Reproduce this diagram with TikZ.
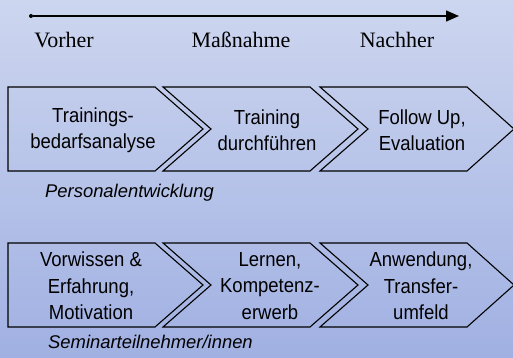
\documentclass[tikz,border=0pt]{standalone}
\usepackage{fontspec}
\setmainfont{Liberation Serif}
\setsansfont{Liberation Sans}
\usetikzlibrary{arrows.meta}
\definecolor{bgtop}{RGB}{205,214,239}
\definecolor{bgbottom}{RGB}{160,176,226}
\tikzset{
  chevron/.style={draw=black, line width=1.1pt, line join=miter},
  steptext/.style={align=center, font=\sffamily\fontsize{18.5}{24}\selectfont, inner sep=0pt, yscale=1.1},
  phase/.style={anchor=base, font=\rmfamily\fontsize{22}{26}\selectfont, inner sep=0pt},
  rowlabel/.style={anchor=base west, font=\sffamily\itshape\fontsize{18.4}{22}\selectfont, inner sep=0pt}
}
\begin{document}
\begin{tikzpicture}[x=1pt, y=-1pt]
  \useasboundingbox (0,0) rectangle (513,358);
  \shade[top color=bgtop, bottom color=bgbottom] (0,0) rectangle (513,358);

  % time axis
  \node[circle, fill=black, inner sep=0pt, minimum size=4pt] (start) at (31,16) {};
  \coordinate (end) at (459,16);
  \draw[line width=1.4pt, -{Triangle[length=13pt, width=11pt]}] (start) -- (end);

  \node[phase] (vorher) at (64,48) {Vorher};
  \node[phase] (massnahme) at (241,48) {Maßnahme};
  \node[phase] (nachher) at (397,48) {Nachher};

  % Personalentwicklung
  \draw[chevron] (8,87) -- (155,87) -- (203,129) -- (155,171) -- (8,171) -- cycle;
  \draw[chevron] (163,87) -- (310,87) -- (358,129) -- (310,171) -- (163,171) -- (211,129) -- cycle;
  \draw[chevron] (320,87) -- (467,87) -- (514,129) -- (467,171) -- (320,171) -- (368,129) -- cycle;

  \node[steptext] (bedarf) at (93,130) {Trainings-\\bedarfsanalyse};
  \node[steptext] (training) at (267,130) {Training\\durchführen};
  \node[steptext] (follow) at (422,130) {Follow Up,\\Evaluation};
  \node[rowlabel] (pe) at (45,197) {Personalentwicklung};

  % Seminarteilnehmer/innen
  \draw[chevron] (8,243) -- (155,243) -- (203,285) -- (155,327) -- (8,327) -- cycle;
  \draw[chevron] (163,243) -- (310,243) -- (358,285) -- (310,327) -- (163,327) -- (211,285) -- cycle;
  \draw[chevron] (320,243) -- (467,243) -- (514,285) -- (467,327) -- (320,327) -- (368,285) -- cycle;

  \node[steptext] (vorwissen) at (91,286) {Vorwissen \&\\Erfahrung,\\Motivation};
  \node[steptext] (lernen) at (270,286) {Lernen,\\Kompetenz-\\erwerb};
  \node[steptext] (anwendung) at (421,286) {Anwendung,\\Transfer-\\umfeld};
  \node[rowlabel] (stn) at (48,348) {Seminarteilnehmer/innen};
\end{tikzpicture}
\end{document}
